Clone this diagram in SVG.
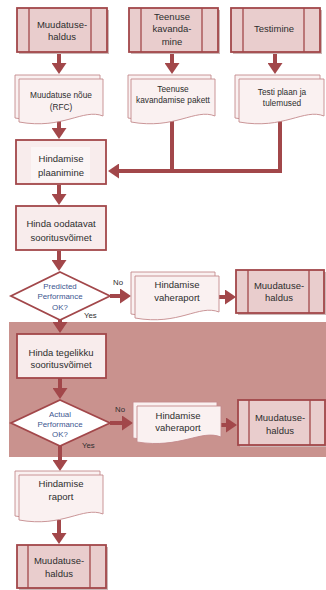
<svg xmlns="http://www.w3.org/2000/svg" width="326" height="590" viewBox="0 0 326 590">
<defs>
<style>
.pp{fill:#e9cdcd;stroke:#a2474a;stroke-width:1.8}
.ppl{fill:none;stroke:#a2474a;stroke-width:1.3}
.sh{fill:#cdb6b6}
.box{fill:#f8ecec;stroke:#a2474a;stroke-width:1.8}
.doc{fill:#faf1f1;stroke:#c48a8c;stroke-width:0.9}
.dia{fill:#ffffff;stroke:#a2474a;stroke-width:1.8}
.t{font-family:"Liberation Sans",Arial,sans-serif;font-size:9.5px;fill:#2e2e2e;text-anchor:middle}
.ts{font-family:"Liberation Sans",Arial,sans-serif;font-size:8.3px;fill:#2e2e2e;text-anchor:middle}
.td{font-family:"Liberation Sans",Arial,sans-serif;font-size:7.9px;fill:#3d5690;text-anchor:middle}
.tl{font-family:"Liberation Sans",Arial,sans-serif;font-size:7.8px;fill:#2e2e2e}
.c{fill:none;stroke:#a2474a;stroke-width:4}
</style>
<marker id="ah" markerUnits="userSpaceOnUse" markerWidth="11" markerHeight="15" viewBox="0 0 11 15" refX="2" refY="7.5" orient="auto">
<path d="M0,0 L11,7.5 L0,15 Z" fill="#a2474a"/>
</marker>
</defs>

<rect id="region" x="9" y="322" width="317" height="135" fill="#c9928e"/>

<g id="connectors">
<line class="c" x1="59" y1="53" x2="59" y2="65" marker-end="url(#ah)"/>
<line class="c" x1="172" y1="53" x2="172" y2="65" marker-end="url(#ah)"/>
<line class="c" x1="275" y1="53" x2="275" y2="65" marker-end="url(#ah)"/>
<line class="c" x1="59" y1="118" x2="59" y2="130" marker-end="url(#ah)"/>
<path class="c" d="M172,116 V171"/>
<path class="c" d="M280,116 V171 H117" marker-end="url(#ah)"/>
<line class="c" x1="59" y1="185" x2="59" y2="196" marker-end="url(#ah)"/>
<line class="c" x1="59" y1="251" x2="59" y2="262" marker-end="url(#ah)"/>
<line class="c" x1="110" y1="296" x2="122" y2="296" marker-end="url(#ah)"/>
<line class="c" x1="219" y1="297" x2="227" y2="297" marker-end="url(#ah)"/>
<line class="c" x1="60" y1="320" x2="60" y2="324" marker-end="url(#ah)"/>
<line class="c" x1="60" y1="378" x2="60" y2="390" marker-end="url(#ah)"/>
<line class="c" x1="110" y1="423" x2="124" y2="423" marker-end="url(#ah)"/>
<line class="c" x1="221" y1="425" x2="228" y2="425" marker-end="url(#ah)"/>
<line class="c" x1="60" y1="445" x2="60" y2="462" marker-end="url(#ah)"/>
<line class="c" x1="59" y1="520" x2="59" y2="535" marker-end="url(#ah)"/>
</g>

<g id="n-muud1">
<rect class="sh" x="19" y="10" width="90" height="44"/>
<rect class="pp" x="17" y="8" width="90" height="44"/>
<line class="ppl" x1="29" y1="8" x2="29" y2="52"/><line class="ppl" x1="91" y1="8" x2="91" y2="52"/>
<text class="t" x="62" y="28">Muudatuse-</text><text class="t" x="62" y="40">haldus</text>
</g>
<g id="n-teenuse">
<rect class="sh" x="131" y="10" width="89" height="44"/>
<rect class="pp" x="129" y="8" width="89" height="44"/>
<line class="ppl" x1="141" y1="8" x2="141" y2="52"/><line class="ppl" x1="202" y1="8" x2="202" y2="52"/>
<text class="t" x="172" y="20">Teenuse</text><text class="t" x="172" y="32">kavanda-</text><text class="t" x="172" y="45">mine</text>
</g>
<g id="n-testimine">
<rect class="sh" x="233" y="10" width="89" height="44"/>
<rect class="pp" x="231" y="8" width="89" height="44"/>
<line class="ppl" x1="243" y1="8" x2="243" y2="52"/><line class="ppl" x1="304" y1="8" x2="304" y2="52"/>
<text class="t" x="274" y="32">Testimine</text>
</g>

<g id="d-rfc">
<path class="doc" d="M15,75 H100 V112 C80,104 60,126 15,118 Z"/>
<path class="doc" d="M19,79 H103 V116 C83,108 63,130 19,122 Z"/>
<text class="ts" x="61" y="98">Muudatuse nõue</text><text class="ts" x="61" y="110">(RFC)</text>
</g>
<g id="d-pakett">
<path class="doc" d="M128,75 H211 V112 C191,104 171,126 128,118 Z"/>
<path class="doc" d="M131,79 H215 V116 C195,108 175,130 131,122 Z"/>
<text class="ts" x="173" y="92">Teenuse</text><text class="ts" x="173" y="103">kavandamise pakett</text>
</g>
<g id="d-testplaan">
<path class="doc" d="M235,75 H320 V112 C300,104 280,126 235,118 Z"/>
<path class="doc" d="M239,79 H324 V116 C304,108 284,130 239,122 Z"/>
<text class="ts" x="282" y="95">Testi plaan ja</text><text class="ts" x="282" y="106">tulemused</text>
</g>

<g id="n-plaanimine">
<rect class="box" x="16" y="140" width="90" height="44"/>
<rect x="31" y="147" width="59" height="35" fill="#fbf5f5"/>
<text class="t" x="61" y="162">Hindamise</text><text class="t" x="61" y="176">plaanimine</text>
</g>
<g id="n-oodatavat">
<rect class="box" x="16" y="206" width="90" height="44"/>
<text class="t" x="61" y="227">Hinda oodatavat</text><text class="t" x="61" y="241">sooritusvõimet</text>
</g>
<g id="n-pred">
<polygon class="dia" points="60,272 110,296 60,320 11,296"/>
<text class="td" x="60" y="289">Predicted</text><text class="td" x="60" y="299">Performance</text><text class="td" x="60" y="310">OK?</text>
<text class="tl" x="113" y="285">No</text><text class="tl" x="84" y="318">Yes</text>
</g>
<g id="d-vahe1">
<path class="doc" d="M131,272 H215 V308 C195,300 175,322 131,314 Z"/>
<path class="doc" d="M135,276 H219 V312 C199,304 179,326 135,318 Z"/>
<text class="t" x="177" y="288">Hindamise</text><text class="t" x="177" y="301">vaheraport</text>
</g>
<g id="n-muud2">
<rect class="sh" x="238" y="272" width="88" height="43"/>
<rect class="pp" x="236" y="270" width="88" height="43"/>
<line class="ppl" x1="248" y1="270" x2="248" y2="313"/><line class="ppl" x1="309" y1="270" x2="309" y2="313"/>
<text class="t" x="279" y="289">Muudatuse-</text><text class="t" x="279" y="301">haldus</text>
</g>

<g id="n-tegelikku">
<rect class="box" x="17" y="334" width="89" height="44"/>
<text class="t" x="61" y="356">Hinda tegelikku</text><text class="t" x="61" y="368">sooritusvõimet</text>
</g>
<g id="n-actual">
<polygon class="dia" points="60,400 110,423 60,446 11,423"/>
<text class="td" x="60" y="417">Actual</text><text class="td" x="60" y="427">Performance</text><text class="td" x="60" y="437">OK?</text>
<text class="tl" x="115" y="412">No</text><text class="tl" x="82" y="448">Yes</text>
</g>
<g id="d-vahe2">
<path class="doc" d="M133,402 H217 V434 C197,426 177,446 133,438 Z"/>
<path class="doc" d="M137,406 H221 V437 C201,429 181,449 137,442 Z"/>
<text class="t" x="178" y="419">Hindamise</text><text class="t" x="178" y="431">vaheraport</text>
</g>
<g id="n-muud3">
<rect class="sh" x="240" y="402" width="86" height="45"/>
<rect class="pp" x="238" y="400" width="87" height="45"/>
<line class="ppl" x1="249" y1="400" x2="249" y2="445"/><line class="ppl" x1="310" y1="400" x2="310" y2="445"/>
<text class="t" x="280" y="421">Muudatuse-</text><text class="t" x="280" y="434">haldus</text>
</g>

<g id="d-raport">
<path class="doc" d="M15,471 H100 V510 C80,502 60,524 15,516 Z"/>
<path class="doc" d="M19,475 H103 V514 C83,506 63,528 19,520 Z"/>
<text class="t" x="61" y="487">Hindamise</text><text class="t" x="61" y="500">raport</text>
</g>
<g id="n-muud4">
<rect class="sh" x="19" y="547" width="89" height="43"/>
<rect class="pp" x="17" y="545" width="89" height="43"/>
<line class="ppl" x1="28" y1="545" x2="28" y2="588"/><line class="ppl" x1="90" y1="545" x2="90" y2="588"/>
<text class="t" x="59" y="564">Muudatuse-</text><text class="t" x="59" y="577">haldus</text>
</g>
</svg>
